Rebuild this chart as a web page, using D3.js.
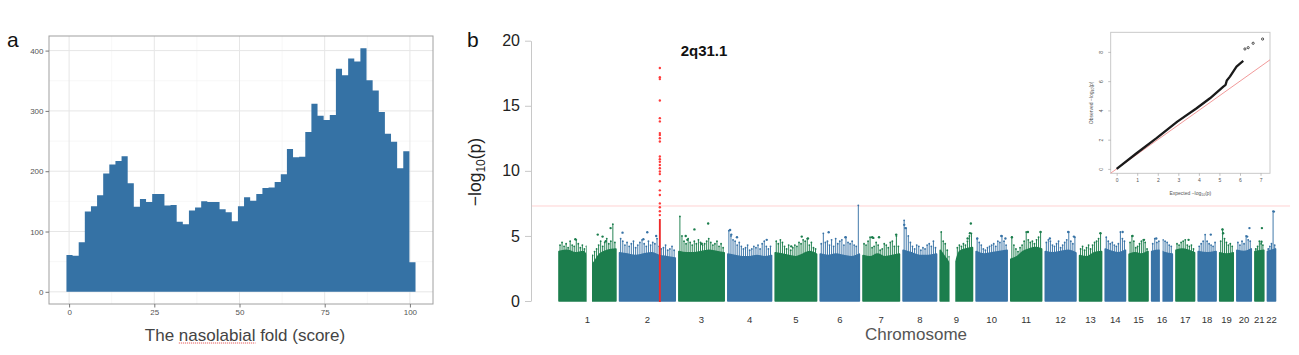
<!DOCTYPE html>
<html><head><meta charset="utf-8">
<script src="https://cdn.jsdelivr.net/npm/d3@7"></script>
<style>
body{margin:0;background:#fff;}
svg{display:block;font-family:"Liberation Sans",Arial,Helvetica,sans-serif;}
</style>
</head><body>
<svg id="c" width="1299" height="355"></svg>
<script>
// ================= DATA =================
// Panel a: histogram of nasolabial fold score
const histBinStart = -0.78;
const histBinWidth = 1.797;
const histCounts = [61,60,82,133,142,160,196,211,217,225,
  180,141,154,149,162,162,143,144,116,112,
  135,140,150,149,149,137,132,117,142,157,
  151,162,172,173,182,195,237,223,224,265,
  312,292,285,293,370,359,387,382,404,351,
  334,298,262,249,205,233,49];
const histXTicks = [0,25,50,75,100];
const histYTicks = [0,100,200,300,400];

// Panel b: Manhattan plot
const chromosomes = ["1","2","3","4","5","6","7","8","9","10","11","12","13","14","15","16","17","18","19","20","21","22"];
const chrFirstMb = [0.7,0.01,0.06,0.07,0.01,0.2,0.04,0.16,0.2,0.1,0.2,0.1,19.0,19.0,20.0,0.06,0.01,0.01,0.2,0.06,9.4,16.0];
const chrLastMb  = [249.2,243.1,197.9,191.0,180.7,171.0,159.1,146.3,141.1,135.5,134.9,133.8,115.1,107.3,102.5,90.2,81.1,78.0,59.1,62.9,48.1,51.2];
const chrSpacerMb = 16;
const centromereGaps = [[1,121.5,144.8],[9,41,66],[16,36,47]];
// upper edge of the dense SNP cloud (-log10 p), sampled along each chromosome
const denseTop = [
  [3.8,3.9,3.7,3.8,2.8,3.6,3.9,4.0],
  [3.7,3.6,3.5,3.6,3.7,3.5,3.4,3.3],
  [3.8,3.7,3.7,3.8,3.9,3.8,3.7],
  [3.6,3.5,3.4,3.4,3.5,3.4,3.5],
  [3.7,3.6,3.5,3.4,3.6,3.8,3.6],
  [3.6,3.5,3.6,3.5,3.4,3.6],
  [3.5,3.4,3.6,3.4,3.5,3.6],
  [3.9,3.7,3.5,3.5,3.6],
  [3.9,3.2,2.6,3.8,4.0,4.1],
  [3.8,3.6,3.7,3.8,3.9],
  [3.2,3.4,3.8,4.0,4.1,4.0],
  [3.8,3.7,3.8,3.9,3.7],
  [3.5,3.4,3.7,3.8],
  [4.0,3.8,3.7,3.9],
  [3.6,3.7,3.6,3.8],
  [3.8,3.9,3.7,3.6],
  [3.9,4.0,3.9,3.7],
  [3.8,3.7,3.8],
  [3.7,3.6,3.7],
  [3.9,3.8,4.0],
  [3.8,3.9],
  [3.8,4.0]
];
// local peak heights (-log10 p), sampled along each chromosome
const peakTop = [
  [4.3,4.5,4.2,4.4,4.1,4.6,4.3,4.2,4.7,4.4,4.1,4.3,4.0,4.2,3.0,2.9,3.5,3.8,4.0,4.3,4.6,4.2,4.5,4.8,4.4,4.6,5.9,4.5],
  [4.8,4.6,4.3,4.5,4.2,4.4,4.6,4.1,4.3,4.5,4.7,4.4,4.2,4.6,4.3,4.5,4.4,4.8,4.2,4.0,4.1,4.3,3.9,4.0,4.2,3.9],
  [6.5,5.0,4.6,4.4,4.8,4.5,4.3,4.6,4.4,4.7,4.5,4.3,4.4,4.6,4.8,4.5,4.3,4.4,4.6,4.2,4.4,4.1],
  [5.4,5.0,4.7,4.6,4.3,4.5,4.2,4.0,4.1,4.3,3.9,4.0,4.2,4.1,4.3,4.0,4.4,4.6,4.2,4.0,4.2],
  [4.6,4.4,4.7,4.5,4.2,4.0,4.3,3.9,4.1,4.3,4.2,4.5,4.4,4.7,4.6,4.8,4.3,4.5,4.1,4.0],
  [4.4,5.2,4.5,4.6,4.3,4.7,4.2,4.8,4.4,4.6,4.7,4.3,4.9,4.5,4.4,4.6,4.3,4.2,7.35],
  [4.4,4.3,4.6,4.9,4.1,4.2,4.5,4.3,3.9,4.0,4.4,4.3,4.1,4.5,4.6,4.2,5.0,4.2],
  [6.2,5.6,5.0,4.5,4.2,4.0,4.3,4.2,3.9,4.1,4.0,4.3,4.4,4.2,4.6,4.1],
  [5.3,4.6,4.4,3.9,3.4,3.0,3.0,3.0,4.1,4.3,4.2,4.4,4.3,4.6,5.0,5.2],
  [4.8,4.5,4.3,4.0,3.9,4.1,4.2,4.3,4.4,4.2,4.6,4.5,5.0,4.6,4.3],
  [4.9,4.3,4.0,3.8,4.1,4.3,4.6,5.3,4.7,4.5,4.6,4.4,4.7,4.9,5.3],
  [4.5,4.7,4.6,4.3,4.2,4.4,4.6,4.1,4.3,4.5,4.7,5.3,4.6,4.4,4.9],
  [4.0,4.2,3.9,4.1,4.3,4.0,4.3,4.5,4.6,4.8,5.2],
  [4.9,4.6,4.4,4.5,4.3,4.2,4.4,5.3,4.8,4.6],
  [4.5,5.0,4.6,4.1,4.2,4.4,4.6,4.7,4.5,4.0],
  [4.4,4.8,4.5,4.6,3.0,4.7,4.6,4.5,4.3,4.2],
  [4.4,4.3,4.5,4.6,4.7,4.3,4.2,4.3,4.0],
  [4.2,4.4,4.6,5.1,4.6,4.4,4.3,4.2,4.5],
  [4.6,5.5,4.8,4.5,4.3,4.4,4.2],
  [4.5,4.3,4.6,4.4,5.0,4.7,4.6],
  [4.0,4.2,4.6,4.4,4.3],
  [4.0,4.2,4.4,6.9,4.3]
];
// isolated SNPs above the cloud: [chromosome, position (Mb), -log10 p]
const topHits = [
  [1,72,4.74],[1,170,5.1],[1,191,4.95],[1,205,4.6],[1,226,5.6],
  [2,13,5.25],[2,104,4.75],[2,121,5.28],[2,160,5.0],
  [3,30,5.0],[3,37,4.7],[3,68,5.5],[3,100,4.4],[3,128,5.95],
  [4,10,5.45],[4,15,5.1],[4,40,4.9],[4,170,4.7],
  [5,116,4.95],[5,143,4.8],[5,70,4.2],
  [6,37,5.28],[6,110,4.9],
  [7,40,4.9],[7,45,4.85],[7,70,4.9],[7,145,5.1],
  [8,5,5.85],[8,10,5.6],
  [9,134,5.95],[9,130,5.2],[9,120,4.8],
  [10,5,4.8],[10,110,5.0],[10,128,4.8],
  [11,5,4.9],[11,75,5.3],[11,130,5.3],
  [12,100,5.3],[12,125,4.95],[12,20,4.8],
  [13,110,5.2],[14,95,5.3],[15,35,5.0],[15,85,4.7],
  [16,20,4.8],[17,55,4.7],[18,55,5.1],
  [19,12,5.5],[19,15,5.2],[20,55,5.6],[20,45,4.95],
  [21,40,5.6],[21,38,4.55],[22,44,6.87]
];
// lead locus 2q31.1
const leadChr = 2;
const leadMb = 176;
const leadLabel = "2q31.1";
const leadDenseTop = 6.3;
const leadSNPs = [17.9,17.2,17.05,15.4,14.05,13.8,12.9,12.75,12.5,12.25,11.1,10.9,10.7,10.45,10.2,9.95,9.75,9.2,8.5,8.15,7.5,7.2,6.9,6.6];
const manYTicks = [0,5,10,15,20];
const genomeWideLine = 7.3;

// QQ inset: [expected, observed]
const qqCurve = [[0,0],[0.97,1.07],[1.94,2.10],[2.95,3.23],[3.89,4.15],[4.54,4.83],[5.19,5.63],[5.30,5.75],[5.36,6.05],[5.51,6.31],[5.83,6.99],[6.0,7.2],[6.16,7.38]];
const qqTail = [[6.24,8.2],[6.40,8.29],[6.64,8.59],[7.10,8.88]];
const qqXTicks = [0,1,2,3,4,5,6,7];
const qqYTicks = [0,2,4,6,8];

// ================= DRAW =================
const svg = d3.select("#c");
const GREEN = "#1c7e4d", BLUE = "#3873a6", HISTBLUE = "#3572a5";

// ---------- Panel a ----------
const A = {l:49, r:433, t:36, b:304};
const ax = d3.scaleLinear().domain([-5.9,106.78]).range([A.l,A.r]);
const ay = d3.scaleLinear().domain([-20.2,424.2]).range([A.b,A.t]);
const ga = svg.append("g");
const mid = arr => arr.slice(1).map((v,i)=>(v+arr[i])/2);
ga.append("g").selectAll("line").data(mid(histYTicks)).join("line")
  .attr("x1",A.l).attr("x2",A.r).attr("y1",d=>ay(d)).attr("y2",d=>ay(d))
  .attr("stroke","#f3f3f3").attr("stroke-width",0.7);
ga.append("g").selectAll("line").data(mid(histXTicks)).join("line")
  .attr("y1",A.t).attr("y2",A.b).attr("x1",d=>ax(d)).attr("x2",d=>ax(d))
  .attr("stroke","#f3f3f3").attr("stroke-width",0.7);
ga.append("g").selectAll("line").data(histYTicks).join("line")
  .attr("x1",A.l).attr("x2",A.r).attr("y1",d=>ay(d)).attr("y2",d=>ay(d))
  .attr("stroke","#e6e6e6").attr("stroke-width",1);
ga.append("g").selectAll("line").data(histXTicks).join("line")
  .attr("y1",A.t).attr("y2",A.b).attr("x1",d=>ax(d)).attr("x2",d=>ax(d))
  .attr("stroke","#e6e6e6").attr("stroke-width",1);
const histPts = histCounts.map((c,i)=>({x: histBinStart+i*histBinWidth, c}));
histPts.push({x: histBinStart+histCounts.length*histBinWidth, c: histCounts[histCounts.length-1]});
ga.append("path").datum(histPts)
  .attr("d", d3.area().curve(d3.curveStepAfter).x(d=>ax(d.x)).y0(ay(0)).y1(d=>ay(d.c)))
  .attr("fill",HISTBLUE);
ga.append("rect").attr("x",A.l).attr("y",A.t).attr("width",A.r-A.l).attr("height",A.b-A.t)
  .attr("fill","none").attr("stroke","#a0a0a0").attr("stroke-width",1);
const ayAxis = ga.append("g").attr("transform",`translate(${A.l},0)`)
  .call(d3.axisLeft(ay).tickValues(histYTicks).tickSize(3.5).tickPadding(2));
const axAxis = ga.append("g").attr("transform",`translate(0,${A.b})`)
  .call(d3.axisBottom(ax).tickValues(histXTicks).tickSize(3.5).tickPadding(2));
[ayAxis,axAxis].forEach(g=>{
  g.select(".domain").remove();
  g.selectAll("line").attr("stroke","#777");
  g.selectAll("text").attr("fill","#555").style("font-size","8px").style("font-family","Liberation Sans, Arial, sans-serif");
});
svg.append("text").attr("x",7).attr("y",47).text("a").style("font-size","21px").attr("fill","#111");
const xt = svg.append("text").attr("x",(A.l+A.r)/2+4).attr("y",341).attr("text-anchor","middle")
  .style("font-size","17px").attr("fill","#444").text("The nasolabial fold (score)");
{
  const n = xt.node();
  const s = n.getStartPositionOfChar(4).x, e = n.getEndPositionOfChar(13).x;
  svg.append("line").attr("x1",s).attr("x2",e).attr("y1",343).attr("y2",343)
    .attr("stroke","#e04040").attr("stroke-width",1).attr("stroke-dasharray","1,1");
}

// ---------- Panel b ----------
const my = d3.scaleLinear().domain([0,20]).range([301,40.7]);
const spans = chromosomes.map((c,i)=>chrLastMb[i]-chrFirstMb[i]);
const offsets = []; let acc = 0;
spans.forEach((s,i)=>{offsets.push(acc); acc += s + (i<spans.length-1?chrSpacerMb:0);});
const gx = d3.scaleLinear().domain([0,acc]).range([559,1275.5]);
const gpos = (c,mb)=>gx(offsets[c-1] + mb - chrFirstMb[c-1]);
const colorOf = i => i%2===0 ? GREEN : BLUE;

const gb = svg.append("g");
gb.append("line").attr("x1",531).attr("x2",1290).attr("y1",my(genomeWideLine)).attr("y2",my(genomeWideLine))
  .attr("stroke","#ffd2d2").attr("stroke-width",1);

chromosomes.forEach((c,i)=>{
  const col = colorOf(i);
  const g = gb.append("g");
  const pk = peakTop[i].map((v,k)=>({mb: chrFirstMb[i] + spans[i]*(k+0.5)/peakTop[i].length, v}));
  g.selectAll("line.pk").data(pk).join("line").attr("class","pk")
    .attr("x1",d=>gpos(i+1,d.mb)).attr("x2",d=>gpos(i+1,d.mb))
    .attr("y1",my(0)).attr("y2",d=>my(d.v))
    .attr("stroke",col).attr("stroke-width",0.95);
  g.selectAll("circle.pk").data(pk).join("circle").attr("class","pk")
    .attr("cx",d=>gpos(i+1,d.mb)).attr("cy",d=>my(d.v)).attr("r",0.9).attr("fill",col);
  const dens = denseTop[i].map((v,k)=>({mb: chrFirstMb[i] + spans[i]*k/(denseTop[i].length-1), v}));
  g.append("path").datum(dens)
    .attr("d", d3.area().x(d=>gpos(i+1,d.mb)).y0(my(0)).y1(d=>my(d.v)).curve(d3.curveMonotoneX))
    .attr("fill",col).attr("stroke",col).attr("stroke-width",1.6).attr("stroke-linejoin","round");
});
gb.selectAll("rect.gap").data(centromereGaps).join("rect").attr("class","gap")
  .attr("x",d=>gpos(d[0],d[1])).attr("width",d=>gpos(d[0],d[2])-gpos(d[0],d[1]))
  .attr("y",my(7)).attr("height",my(0)-my(7)+3).attr("fill","#fff");
gb.selectAll("circle.hit").data(topHits).join("circle").attr("class","hit")
  .attr("cx",d=>gpos(d[0],d[1])).attr("cy",d=>my(d[2])).attr("r",1.2)
  .attr("fill",d=>colorOf(d[0]-1));
const lx = gpos(leadChr,leadMb);
gb.append("line").attr("x1",lx).attr("x2",lx).attr("y1",my(0)+1).attr("y2",my(leadDenseTop))
  .attr("stroke","#ee2a2a").attr("stroke-width",1.9);
gb.selectAll("circle.lead").data(leadSNPs).join("circle").attr("class","lead")
  .attr("cx",lx).attr("cy",d=>my(d)).attr("r",1.2).attr("fill","#ff3b3b");
svg.append("text").attr("x",704).attr("y",56).attr("text-anchor","middle")
  .style("font-size","15px").style("font-weight","bold").attr("fill","#111").text(leadLabel);

const myAxis = gb.append("g").attr("transform","translate(531,0)")
  .call(d3.axisLeft(my).tickValues(manYTicks).tickSize(6).tickSizeOuter(0).tickPadding(5));
myAxis.select(".domain").attr("stroke","#c8c8c8");
myAxis.selectAll("line").attr("stroke","#c8c8c8");
myAxis.selectAll("text").attr("fill","#222").style("font-size","16px").style("font-family","Liberation Sans, Arial, sans-serif");
svg.append("g").selectAll("text").data(chromosomes).join("text")
  .attr("x",(c,i)=>gpos(i+1,(chrFirstMb[i]+chrLastMb[i])/2)).attr("y",322.5)
  .attr("text-anchor","middle").style("font-size","9.5px").style("fill","#333").text(c=>c);
svg.append("text").attr("x",916).attr("y",340).attr("text-anchor","middle")
  .style("font-size","17px").attr("fill","#555").text("Chromosome");
const yl = svg.append("text").attr("transform","translate(481,172) rotate(-90)").attr("text-anchor","middle")
  .style("font-size","17.5px").attr("fill","#222");
yl.append("tspan").text("\u2212log");
yl.append("tspan").attr("dy",4).style("font-size","12px").text("10");
yl.append("tspan").attr("dy",-4).text("(p)");
svg.append("text").attr("x",467).attr("y",47).text("b").style("font-size","21px").attr("fill","#111");

// ---------- QQ inset ----------
const Q = {l:1110.7, r:1270, t:32.3, b:173.3};
const qx = d3.scaleLinear().domain([-0.29,7.46]).range([Q.l,Q.r]);
const qy = d3.scaleLinear().domain([-0.30,9.34]).range([Q.b,Q.t]);
const gq = svg.append("g");
gq.append("rect").attr("x",Q.l).attr("y",Q.t).attr("width",Q.r-Q.l).attr("height",Q.b-Q.t)
  .attr("fill","#fff").attr("stroke","#c4c4c4").attr("stroke-width",0.9);
gq.append("line").attr("x1",qx(-0.29)).attr("y1",qy(-0.29)).attr("x2",qx(7.46)).attr("y2",qy(7.46))
  .attr("stroke","#f29a9a").attr("stroke-width",1);
gq.append("path").datum(qqCurve).attr("d",d3.line().x(d=>qx(d[0])).y(d=>qy(d[1])))
  .attr("fill","none").attr("stroke","#1a1a1a").attr("stroke-width",2.3).attr("stroke-linejoin","round");
gq.selectAll("circle").data(qqTail).join("circle")
  .attr("cx",d=>qx(d[0])).attr("cy",d=>qy(d[1])).attr("r",1.1)
  .attr("fill","none").attr("stroke","#222").attr("stroke-width",0.8);
const qxa = gq.append("g").attr("transform",`translate(0,${Q.b})`)
  .call(d3.axisBottom(qx).tickValues(qqXTicks).tickSize(2.5).tickPadding(3));
const qya = gq.append("g").attr("transform",`translate(${Q.l},0)`)
  .call(d3.axisLeft(qy).tickValues(qqYTicks).tickSize(2.5).tickPadding(3));
[qxa,qya].forEach(g=>{
  g.select(".domain").remove();
  g.selectAll("line").attr("stroke","#999").attr("stroke-width",0.6);
  g.selectAll("text").attr("fill","#555").style("font-size","5px").style("font-family","Liberation Sans, Arial, sans-serif");
});
qya.selectAll("text").attr("transform","rotate(-90)").attr("x",0).attr("y",-7.5).attr("dy","0").attr("text-anchor","middle");
const qxl = gq.append("text").attr("x",(Q.l+Q.r)/2).attr("y",195).attr("text-anchor","middle")
  .style("font-size","5px").attr("fill","#555");
qxl.append("tspan").text("Expected \u2212log");
qxl.append("tspan").attr("dy",1).style("font-size","3.5px").text("10");
qxl.append("tspan").attr("dy",-1).text("(p)");
const qyl = gq.append("text").attr("transform",`translate(1093,${(Q.t+Q.b)/2}) rotate(-90)`).attr("text-anchor","middle")
  .style("font-size","5px").attr("fill","#555");
qyl.append("tspan").text("Observed \u2212log");
qyl.append("tspan").attr("dy",1).style("font-size","3.5px").text("10");
qyl.append("tspan").attr("dy",-1).text("(p)");
</script>
</body></html>
